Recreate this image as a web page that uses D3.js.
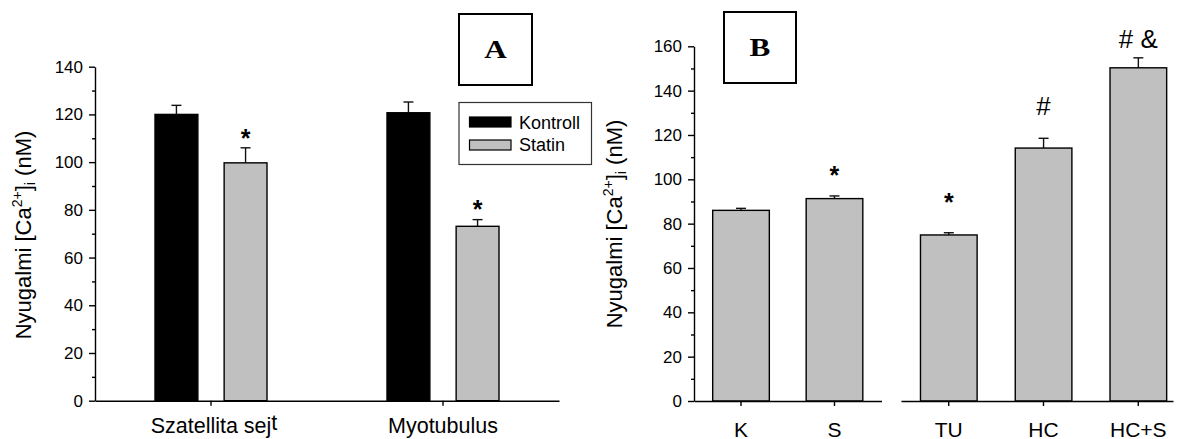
<!DOCTYPE html>
<html>
<head>
<meta charset="utf-8">
<script src="https://cdn.jsdelivr.net/npm/d3@7"></script>
<style>
  body { margin: 0; background: #fff; }
  svg { display: block; font-family: "Liberation Sans", Arial, sans-serif; }
</style>
</head>
<body>
<svg id="chart" width="1181" height="439"></svg>
<script>
// ---- Panel A: resting [Ca2+]i, control vs statin, per cell type ----
const groupsA = ["Szatellita sejt", "Myotubulus"];
const seriesA = ["Kontroll", "Statin"];
const kontrollA = [120.0, 120.7];
const kontrollErrA = [3.8, 4.5];
const statinA = [99.7, 73.1];
const statinErrA = [6.3, 2.8];
const sigA = ["*", "*"];            // significance marks above the statin bars
const sigLevelA = [106.3, 76.5];    // label baseline, in nM
const ticksA = [0, 20, 40, 60, 80, 100, 120, 140];
const minorTicksA = [10, 30, 50, 70, 90, 110, 130];

// ---- Panel B: resting [Ca2+]i per treatment (broken category axis) ----
const catsB1 = ["K", "S"];
const catsB2 = ["TU", "HC", "HC+S"];
const valuesB = [86.0, 91.3, 74.9, 114.1, 150.3];
const errB = [0.9, 1.2, 1.0, 4.4, 4.5];
const sigB = ["", "*", "*", "#", "# &"];
const sigLevelB = [null, 97.9, 85.5, 129.0, 159.2];
const ticksB = [0, 20, 40, 60, 80, 100, 120, 140, 160];
const minorTicksB = [10, 30, 50, 70, 90, 110, 130, 150];

const svg = d3.select("#chart");
const GRAY = "#c0c0c0";
const LINE_W = 1.4;
const SANS = "Liberation Sans, Arial, sans-serif";
const SERIF = "Liberation Serif, Times New Roman, serif";

function yTitle(g, x, y) {
  const t = g.append("text")
    .attr("transform", `translate(${x},${y}) rotate(-90)`)
    .attr("text-anchor", "middle")
    .attr("font-size", 22)
    .attr("fill", "#000");
  t.append("tspan").text("Nyugalmi [Ca");
  t.append("tspan").attr("font-size", 14).attr("dy", -9).text("2+");
  t.append("tspan").attr("dy", 9).text("]");
  t.append("tspan").attr("font-size", 14).attr("dy", 4).text("i");
  t.append("tspan").attr("dy", -4).text(" (nM)");
}

function yAxis(g, y, ticks, minor, x0) {
  g.append("g")
    .attr("transform", `translate(${x0},0)`)
    .call(d3.axisLeft(y).tickValues(ticks).tickSize(6).tickSizeOuter(0).tickPadding(6))
    .call(a => a.selectAll("text").attr("font-size", 17).attr("font-family", SANS).attr("fill", "#000"))
    .call(a => a.selectAll("line,path").attr("stroke", "#000").attr("stroke-width", LINE_W));
  g.append("g")
    .attr("transform", `translate(${x0},0)`)
    .call(d3.axisLeft(y).tickValues(minor).tickSize(3).tickFormat(""))
    .call(a => a.select(".domain").remove())
    .call(a => a.selectAll("line").attr("stroke", "#000").attr("stroke-width", LINE_W));
}

function errorBar(g, cx, yTop, yErr, cap) {
  g.append("line").attr("x1", cx).attr("x2", cx).attr("y1", yTop).attr("y2", yErr)
    .attr("stroke", "#111").attr("stroke-width", LINE_W);
  g.append("line").attr("x1", cx - cap / 2).attr("x2", cx + cap / 2).attr("y1", yErr).attr("y2", yErr)
    .attr("stroke", "#111").attr("stroke-width", LINE_W);
}

function sigMark(g, x, y, label) {
  g.append("text").attr("x", x).attr("y", y)
    .attr("text-anchor", "middle")
    .attr("font-size", label === "*" ? 25 : 26)
    .attr("font-weight", label === "*" ? "bold" : "normal")
    .text(label);
}

function panelTag(g, x, y, w, h, letter) {
  g.append("rect").attr("x", x).attr("y", y).attr("width", w).attr("height", h)
    .attr("fill", "#fff").attr("stroke", "#000").attr("stroke-width", 2);
  g.append("text")
    .attr("transform", `translate(${x + w / 2},${y + h / 2 + 8.5}) scale(1.2,1)`)
    .attr("text-anchor", "middle")
    .attr("font-family", SERIF).attr("font-weight", "bold")
    .attr("font-size", 26).text(letter);
}

// ================= Panel A =================
const gA = svg.append("g");
const yA = d3.scaleLinear().domain([0, 140]).range([400.7, 66.7]);
const xA = d3.scaleBand().domain(groupsA).range([95, 559]).paddingInner(0).paddingOuter(0);
const xSubA = d3.scaleBand().domain(seriesA).range([-56, 56]).paddingInner(0.38);
const fillA = d3.scaleOrdinal().domain(seriesA).range(["#000", GRAY]);

const barsA = [];
groupsA.forEach((grp, i) => {
  barsA.push({ grp, s: "Kontroll", v: kontrollA[i], e: kontrollErrA[i], sig: "", lvl: null });
  barsA.push({ grp, s: "Statin", v: statinA[i], e: statinErrA[i], sig: sigA[i], lvl: sigLevelA[i] });
});

barsA.forEach(d => {
  const cx = xA(d.grp) + xA.bandwidth() / 2;
  const x = cx + xSubA(d.s);
  const w = xSubA.bandwidth();
  errorBar(gA, x + w / 2, yA(d.v), yA(d.v + d.e), 10);
  gA.append("rect")
    .attr("x", x).attr("y", yA(d.v))
    .attr("width", w).attr("height", yA(0) - yA(d.v))
    .attr("fill", fillA(d.s))
    .attr("stroke", "#000").attr("stroke-width", LINE_W);
  if (d.sig) sigMark(gA, x + w / 2, yA(d.lvl), d.sig);
});

yAxis(gA, yA, ticksA, minorTicksA, 95);

gA.append("g")
  .attr("transform", `translate(0,${yA(0)})`)
  .call(d3.axisBottom(xA).tickSize(5).tickSizeOuter(0).tickFormat(""))
  .call(a => a.selectAll("line,path").attr("stroke", "#000").attr("stroke-width", LINE_W));

// category labels; the trailing letter of the first label sits slightly raised
groupsA.forEach((grp, i) => {
  const t = gA.append("text")
    .attr("x", xA(grp) + xA.bandwidth() / 2 + (i === 0 ? 3 : 0))
    .attr("y", 433)
    .attr("text-anchor", "middle").attr("font-size", 21.5);
  if (i === 0) {
    t.append("tspan").text(grp.slice(0, -1));
    t.append("tspan").attr("dy", -3).text(grp.slice(-1));
  } else {
    t.text(grp);
  }
});

yTitle(gA, 31, 235);
panelTag(gA, 459, 14, 73, 71, "A");

// legend
const leg = gA.append("g");
leg.append("rect").attr("x", 459).attr("y", 102.5).attr("width", 132.5).attr("height", 62)
  .attr("fill", "#fff").attr("stroke", "#333").attr("stroke-width", 1.2);
seriesA.forEach((s, i) => {
  leg.append("rect").attr("x", 469.5).attr("y", 117 + i * 23).attr("width", 41.5).attr("height", 10)
    .attr("fill", fillA(s)).attr("stroke", "#000").attr("stroke-width", 1.2);
  leg.append("text").attr("x", 519).attr("y", 128.5 + i * 22.5).attr("font-size", 18).text(s);
});

// ================= Panel B =================
const gB = svg.append("g");
const yB = d3.scaleLinear().domain([0, 160]).range([401, 46.3]);
const xB1 = d3.scaleBand().domain(catsB1).range([694, 881.5]).paddingInner(0.394).paddingOuter(0.2).align(0.5);
const xB2 = d3.scaleBand().domain(catsB2).range([901, 1173]).paddingInner(0.404).paddingOuter(0.137).align(0.75);
const catsB = catsB1.concat(catsB2);
const xPosB = c => (catsB1.includes(c) ? xB1(c) : xB2(c));

catsB.forEach((c, i) => {
  const x = xPosB(c);
  const w = xB1.bandwidth();
  const v = valuesB[i];
  errorBar(gB, x + w / 2, yB(v), yB(v + errB[i]), 10);
  gB.append("rect")
    .attr("x", x).attr("y", yB(v))
    .attr("width", w).attr("height", yB(0) - yB(v))
    .attr("fill", GRAY).attr("stroke", "#000").attr("stroke-width", LINE_W);
  if (sigB[i]) sigMark(gB, x + w / 2, yB(sigLevelB[i]), sigB[i]);
});

yAxis(gB, yB, ticksB, minorTicksB, 694);

[xB1, xB2].forEach(sc => {
  gB.append("g")
    .attr("transform", `translate(0,${yB(0)})`)
    .call(d3.axisBottom(sc).tickSize(5).tickSizeOuter(0))
    .call(a => a.selectAll("line,path").attr("stroke", "#000").attr("stroke-width", LINE_W))
    .call(a => a.selectAll("text").attr("dy", null).attr("y", 35.5)
      .attr("font-size", 21).attr("font-family", SANS).attr("fill", "#000"));
});

yTitle(gB, 622, 224);
panelTag(gB, 724, 12, 72, 71, "B");
</script>
</body>
</html>
